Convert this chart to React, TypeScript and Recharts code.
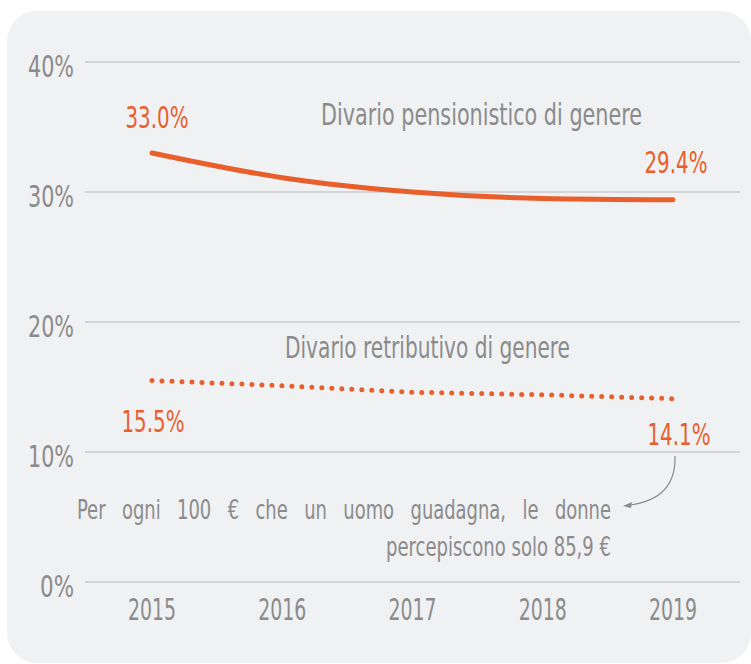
import React from 'react';
import { LineChart, Line, XAxis, YAxis, CartesianGrid, LabelList } from 'recharts';

const years = ['2015', '2016', '2017', '2018', '2019'];
const pensionGap = [33.0, 31.1, 30.0, 29.5, 29.4];
const payGap = [15.5, 15.1, 14.6, 14.4, 14.1];
const yTicks = [0, 10, 20, 30, 40];
const pensionLabel = 'Divario pensionistico di genere';
const payLabel = 'Divario retributivo di genere';
const noteLine1 = 'Per ogni 100 € che un uomo guadagna, le donne';
const noteLine2 = 'percepiscono solo 85,9 €';

const data = years.map((y, i) => ({ year: y, pension: pensionGap[i], pay: payGap[i] }));

const FONT = '"DejaVu Sans Condensed", "DejaVu Sans", sans-serif';
const ORANGE = '#e85f2c';
const GRAY = '#8b8b8b';

const fmt = (v: number) => `${v.toFixed(1)}%`;

const YTick = (props: any) => {
  const { x, y, payload } = props;
  const label = `${payload.value}%`;
  const len = (label.length - 1) * 12 + 22;
  return (
    <text
      x={x - len}
      y={y + 15}
      fontFamily={FONT}
      fontSize={30}
      fill={GRAY}
      textLength={len}
      lengthAdjust="spacingAndGlyphs"
    >
      {label}
    </text>
  );
};

const XTick = (props: any) => {
  const { x, y, payload } = props;
  return (
    <text
      x={x - 24}
      y={y + 36}
      fontFamily={FONT}
      fontSize={30}
      fill={GRAY}
      textLength={48}
      lengthAdjust="spacingAndGlyphs"
    >
      {payload.value}
    </text>
  );
};

const makeLabel = (offsets: Record<number, [number, number]>) => (props: any) => {
  const { x, y, value, index } = props;
  const off = offsets[index];
  if (!off) return null;
  const len = 63;
  return (
    <text
      x={x + off[0] - len / 2}
      y={y + off[1]}
      fontFamily={FONT}
      fontSize={30}
      fill={ORANGE}
      textLength={len}
      lengthAdjust="spacingAndGlyphs"
    >
      {fmt(value)}
    </text>
  );
};

export default function App() {
  return (
    <div style={{ position: 'absolute', left: 0, top: 0, width: 751, height: 664, background: '#fff' }}>
      <div
        style={{
          position: 'absolute',
          left: 7,
          top: 11,
          width: 744,
          height: 652,
          borderRadius: 30,
          background: '#f0f1f3',
        }}
      />
      <div style={{ position: 'absolute', left: 0, top: 0 }}>
        <LineChart width={751} height={664} data={data} margin={{ top: 62, right: 11, bottom: 42, left: 0 }}>
          <CartesianGrid vertical={false} stroke="#b7b7ba" strokeWidth={1.2} />
          <XAxis
            dataKey="year"
            axisLine={false}
            tickLine={false}
            tickSize={0}
            height={40}
            padding={{ left: 67, right: 67 }}
            tick={<XTick />}
            interval={0}
          />
          <YAxis
            domain={[0, 40]}
            ticks={yTicks}
            axisLine={false}
            tickLine={false}
            tickSize={0}
            tickMargin={11}
            width={85}
            tick={<YTick />}
            interval={0}
          />
          <Line
            dataKey="pension"
            stroke={ORANGE}
            strokeWidth={5}
            strokeLinecap="round"
            dot={false}
            isAnimationActive={false}
            type="monotone"
          >
            <LabelList dataKey="pension" content={makeLabel({ 0: [5, -25], 4: [3, -27] })} />
          </Line>
          <Line
            dataKey="pay"
            stroke={ORANGE}
            strokeWidth={5}
            strokeDasharray="0 10"
            strokeLinecap="round"
            dot={false}
            isAnimationActive={false}
            type="linear"
          >
            <LabelList dataKey="pay" content={makeLabel({ 0: [1, 51], 4: [6, 46] })} />
          </Line>
        </LineChart>
      </div>
      <svg
        width={751}
        height={664}
        style={{ position: 'absolute', left: 0, top: 0, pointerEvents: 'none' }}
      >
        <defs>
          <marker id="ah" markerWidth="8" markerHeight="6" refX="1" refY="3" orient="auto" markerUnits="userSpaceOnUse">
            <path d="M8,0 L0,3 L8,6 Z" fill={GRAY} />
          </marker>
        </defs>
        <text x={321} y={125} fontFamily={FONT} fontSize={30} fill={GRAY} textLength={321} lengthAdjust="spacingAndGlyphs">
          {pensionLabel}
        </text>
        <text x={285} y={358} fontFamily={FONT} fontSize={30} fill={GRAY} textLength={285} lengthAdjust="spacingAndGlyphs">
          {payLabel}
        </text>
        <text
          x={77}
          y={519}
          fontFamily={FONT}
          fontSize={26}
          fill={GRAY}
          wordSpacing={14}
          textLength={534}
          lengthAdjust="spacingAndGlyphs"
        >
          {noteLine1}
        </text>
        <text x={386} y={556} fontFamily={FONT} fontSize={26} fill={GRAY} textLength={225} lengthAdjust="spacingAndGlyphs">
          {noteLine2}
        </text>
        <path d="M675,456 C676,486 660,501 630,505" stroke={GRAY} strokeWidth={1.2} fill="none" />
        <path d="M623,506 L632,502 L631,508 Z" fill={GRAY} />
      </svg>
    </div>
  );
}
